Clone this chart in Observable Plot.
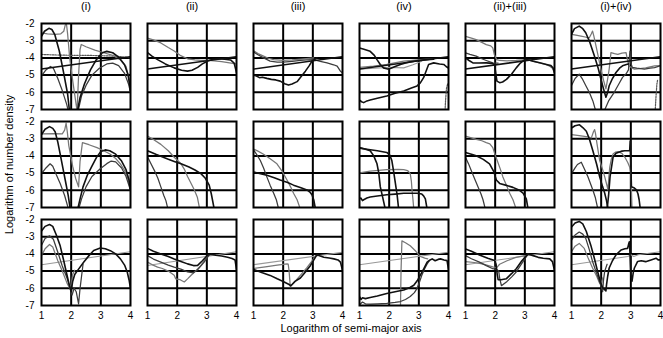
<!DOCTYPE html>
<html><head><meta charset="utf-8">
<script src="https://cdn.jsdelivr.net/npm/d3@7"></script>
<script src="https://cdn.jsdelivr.net/npm/@observablehq/plot@0.6"></script>
<style>
body{margin:0;background:#fff;color:#000;}
#chart svg{display:block;}
#chart svg text{fill:#000 !important;}
#chart [aria-label="x-axis label"] text,#chart [aria-label="y-axis label"] text{font-size:11px;}
#chart [aria-label="fx-axis tick label"]{fill:#000 !important;color:#000;}
#chart [aria-label="fx-axis tick label"] text{font-size:11px;}
</style></head><body><div id="chart"></div>
<script>
const columns = ["(i)","(ii)","(iii)","(iv)","(ii)+(iii)","(i)+(iv)"];
const rows = ["top","middle","bottom"];
const xTicks = [1,2,3,4];
const yTicks = [-2,-3,-4,-5,-6,-7];
const xGrid = [2,3];
const yGrid = [-3,-4,-5,-6];
const refLine = [[1,-4.65],[4,-3.93]];

// ---- top row ----
const r1c1 = [
 ["dotted",[[1,-3.8],[1.5,-3.83],[2,-3.85],[2.5,-3.85],[3,-3.87],[3.5,-3.9],[3.8,-3.95],[4,-4.0]]],
 ["mid",[[1,-2.55],[1.2,-2.6],[1.45,-2.63],[1.65,-2.6],[1.75,-2.45],[1.8,-2.1],[1.84,-2.0],[1.88,-2.6],[1.95,-4.0],[2.05,-5.3],[2.15,-6.5],[2.2,-7.1],[2.25,-5.0],[2.3,-3.5],[2.34,-3.22],[2.5,-3.35],[2.8,-3.55],[3.1,-3.7],[3.4,-3.85],[3.65,-4.1],[3.85,-4.5],[3.95,-5.2],[4,-6]]],
 ["dark",[[1,-5.05],[1.15,-4.7],[1.3,-4.5],[1.4,-4.6],[1.55,-5.2],[1.7,-5.9],[1.85,-6.7],[1.92,-7.2]]],
 ["dark",[[2.22,-7.2],[2.35,-6.2],[2.5,-5.6],[2.7,-5.0],[2.95,-4.6],[3.2,-4.35],[3.4,-4.3],[3.6,-4.45],[3.8,-4.9],[3.93,-5.5],[4,-6.0]]],
 ["black",[[1,-2.75],[1.1,-2.45],[1.25,-2.28],[1.35,-2.35],[1.45,-2.65],[1.6,-3.6],[1.75,-4.9],[1.88,-6.1],[1.95,-7.2]]],
 ["black",[[2.2,-7.2],[2.3,-6.3],[2.45,-5.5],[2.65,-4.7],[2.85,-4.1],[3.05,-3.7],[3.2,-3.62],[3.4,-3.7],[3.6,-3.95],[3.8,-4.4],[3.92,-5.0],[4,-5.9]]],
 ["black",refLine]
];
const r1c2 = [
 ["mid",[[1,-2.85],[1.2,-2.95],[1.45,-3.13],[1.7,-3.4],[1.9,-3.6],[2.1,-3.85],[2.35,-4.05],[2.6,-4.12],[2.8,-4.15],[3.05,-4.15],[3.25,-4.17],[3.5,-4.22],[3.82,-4.3],[4,-4.35]]],
 ["black",[[1,-3.7],[1.15,-3.9],[1.34,-4.1],[1.6,-4.35],[1.9,-4.58],[2.15,-4.72],[2.35,-4.77],[2.5,-4.72],[2.69,-4.55],[2.85,-4.35],[3.03,-4.18],[3.2,-4.08],[3.4,-4.05],[3.6,-4.08],[3.8,-4.12],[3.92,-4.3],[4,-4.85]]],
 ["black",refLine]
];
const r1c3 = [
 ["mid",[[1,-3.58],[1.15,-3.75],[1.34,-3.9],[1.5,-4.02],[1.68,-4.1],[2.0,-4.15],[2.3,-4.12],[2.6,-4.07],[3.03,-4.0]]],
 ["dark",[[1,-3.65],[1.15,-3.82],[1.34,-4.0],[1.56,-4.19],[1.8,-4.24],[2.0,-4.25],[2.3,-4.2],[2.58,-4.15],[2.8,-4.12],[3.03,-4.1],[3.25,-4.2],[3.48,-4.29],[3.7,-4.4],[3.82,-4.48],[3.93,-4.77],[4,-4.87]]],
 ["black",[[1,-5.0],[1.1,-5.05],[1.2,-5.15],[1.3,-5.12],[1.45,-5.19],[1.6,-5.25],[1.75,-5.28],[1.9,-5.35],[2.05,-5.5],[2.18,-5.58],[2.3,-5.52],[2.47,-5.38],[2.6,-5.1],[2.75,-4.77],[2.88,-4.45],[2.97,-4.19],[3.14,-4.0]]],
 ["black",refLine]
];
const r1c4 = [
 ["mid",[[1,-4.55],[1.47,-4.48],[1.92,-4.38],[2.49,-4.19],[3.05,-4.1],[3.5,-4.05]]],
 ["light",[[1,-4.65],[1.5,-4.6],[2.0,-4.55],[2.49,-4.58],[2.8,-4.4],[3.1,-4.2]]],
 ["dotted",[[3.88,-7.2],[3.9,-6.5],[3.93,-5.8],[3.97,-5.5],[4,-5.6]]],
 ["black",[[1,-3.42],[1.15,-3.5],[1.36,-3.62],[1.5,-3.85],[1.59,-4.1],[1.7,-4.38],[1.81,-4.58],[1.95,-4.65],[2.04,-4.62],[2.2,-4.5],[2.38,-4.38],[2.55,-4.3],[2.71,-4.23],[3.0,-4.15],[3.28,-4.1],[3.5,-4.08]]],
 ["black",[[1,-6.46],[1.07,-6.55],[1.14,-6.6],[1.25,-6.5],[1.36,-6.45],[1.6,-6.35],[1.92,-6.21],[2.2,-6.05],[2.49,-5.92],[2.75,-5.75],[2.94,-5.63],[3.05,-5.45],[3.16,-5.15],[3.25,-4.75],[3.33,-4.38],[3.5,-4.29],[3.7,-4.35],[3.84,-4.38],[3.92,-4.5],[4,-4.6]]],
 ["black",refLine]
];
const r1c5 = [
 ["mid",[[1,-2.75],[1.2,-2.85],[1.36,-2.94],[1.55,-3.1],[1.7,-3.23],[1.85,-3.3],[1.92,-3.42],[1.97,-3.8],[2.05,-4.1],[2.15,-4.15],[2.4,-4.17],[2.71,-4.15],[3.05,-4.1],[3.3,-4.2],[3.5,-4.29],[3.7,-4.38],[3.84,-4.48],[3.93,-4.6],[4,-4.87]]],
 ["dark",[[1,-3.71],[1.15,-3.8],[1.36,-3.9],[1.55,-4.05],[1.7,-4.15],[1.92,-4.29],[2.1,-4.3]]],
 ["black",[[1,-4.0],[1.12,-4.15],[1.25,-4.29],[1.45,-4.3],[1.7,-4.29],[1.9,-4.32],[1.98,-4.38],[2.02,-4.9],[2.06,-5.35],[2.15,-5.44],[2.25,-5.4],[2.38,-5.25],[2.55,-4.95],[2.71,-4.58],[2.85,-4.3],[3.0,-4.1],[3.15,-4.12],[3.28,-4.19],[3.5,-4.28],[3.73,-4.38],[3.88,-4.45],[3.95,-4.58],[4,-4.87]]],
 ["black",refLine]
];
const r1c6 = [
 ["mid",[[1,-2.63],[1.15,-2.68],[1.32,-2.73],[1.5,-2.8],[1.6,-2.83],[1.67,-2.6],[1.71,-2.44],[1.75,-2.7],[1.8,-3.1],[1.9,-3.9],[1.99,-4.65],[2.08,-5.3],[2.16,-5.8],[2.22,-5.2],[2.27,-4.65],[2.33,-3.69],[2.45,-3.75],[2.56,-3.79],[2.7,-3.72],[2.84,-3.69],[2.87,-3.98],[2.93,-4.46],[3.05,-4.6],[3.12,-4.65],[3.3,-4.62],[3.5,-4.58],[3.8,-4.46],[4,-4.45]]],
 ["dotted",[[3.82,-7.1],[3.85,-6.2],[3.88,-5.5],[3.9,-5.3]]],
 ["dark",[[1,-5.6],[1.12,-5.2],[1.26,-4.94],[1.36,-5.2],[1.48,-5.6],[1.6,-6.0],[1.72,-6.5],[1.82,-7.1]]],
 ["dark",[[2.1,-7.1],[2.25,-6.5],[2.44,-6.0],[2.6,-5.5],[2.72,-5.13],[2.85,-4.9],[2.92,-4.7],[2.95,-4.0],[2.97,-3.6],[3.0,-4.3],[3.05,-4.55],[3.2,-4.6],[3.46,-4.65],[3.65,-4.6],[3.8,-4.56],[4,-4.45]]],
 ["black",[[1,-2.63],[1.1,-2.3],[1.26,-2.15],[1.38,-2.3],[1.48,-2.54],[1.62,-3.1],[1.77,-3.88],[1.9,-4.6],[1.99,-5.23],[2.08,-5.8],[2.16,-6.29],[2.22,-6.0],[2.27,-5.62],[2.38,-5.2],[2.5,-4.85],[2.62,-4.6],[2.72,-4.46],[2.85,-4.38],[2.92,-4.35]]],
 ["black",refLine]
];

// ---- middle row ----
const r2c1 = [
 ["mid",[[1,-2.72],[1.4,-2.7],[1.7,-2.72],[1.78,-2.5],[1.83,-2.1],[1.87,-2.6],[1.92,-3.4],[2.05,-4.6],[2.15,-5.3],[2.25,-5.8],[2.3,-4.3],[2.38,-3.23],[2.6,-3.35],[2.87,-3.52],[3.1,-3.7],[3.32,-3.9],[3.5,-4.15],[3.66,-4.46],[3.8,-4.85],[3.9,-5.25],[4,-6.0]]],
 ["dark",[[1,-5.03],[1.15,-4.7],[1.29,-4.46],[1.38,-4.6],[1.5,-5.1],[1.63,-5.6],[1.78,-6.3],[1.91,-7.1]]],
 ["dark",[[2.25,-7.1],[2.35,-6.5],[2.5,-5.8],[2.7,-5.2],[2.98,-4.75],[3.2,-4.45],[3.35,-4.3],[3.5,-4.35],[3.7,-4.7],[3.85,-5.2],[4,-6.0]]],
 ["black",[[1,-2.76],[1.12,-2.45],[1.27,-2.3],[1.38,-2.4],[1.46,-2.6],[1.55,-3.2],[1.63,-3.9],[1.72,-4.7],[1.8,-5.4],[1.9,-6.3],[1.97,-7.1]]],
 ["black",[[2.22,-7.1],[2.3,-6.5],[2.4,-5.8],[2.55,-5.1],[2.7,-4.6],[2.85,-4.1],[3.0,-3.75],[3.15,-3.65],[3.3,-3.7],[3.5,-3.9],[3.7,-4.3],[3.85,-4.8],[3.95,-5.4],[4,-6.0]]]
];
const r2c2 = [
 ["mid",[[1,-2.85],[1.2,-3.05],[1.45,-3.33],[1.7,-3.7],[1.9,-4.08],[2.13,-4.46],[2.25,-4.8],[2.35,-5.2],[2.47,-5.6],[2.58,-5.98],[2.68,-6.4],[2.76,-7.1]]],
 ["dark",[[1,-4.05],[1.1,-4.4],[1.23,-4.84],[1.35,-5.3],[1.45,-5.8],[1.55,-6.3],[1.62,-6.6],[1.69,-7.1]]],
 ["black",[[1,-3.7],[1.3,-3.92],[1.68,-4.18],[1.9,-4.32],[2.13,-4.46],[2.4,-4.65],[2.6,-4.82],[2.8,-5.03],[2.95,-5.3],[3.08,-5.7],[3.15,-6.2],[3.25,-7.1]]]
];
const r2c3 = [
 ["mid",[[1,-3.6],[1.15,-3.72],[1.34,-3.9],[1.55,-4.15],[1.79,-4.46],[1.95,-4.85],[2.13,-5.4],[2.25,-5.8],[2.35,-6.17],[2.47,-6.55],[2.58,-7.1]]],
 ["dark",[[1,-3.65],[1.1,-3.9],[1.23,-4.27],[1.34,-4.7],[1.45,-5.22],[1.56,-5.7],[1.68,-6.17],[1.77,-6.55],[1.85,-7.1]]],
 ["black",[[1,-4.94],[1.2,-5.02],[1.45,-5.13],[1.7,-5.27],[1.9,-5.4],[2.15,-5.55],[2.35,-5.7],[2.6,-5.85],[2.8,-5.98],[2.9,-6.1],[2.97,-6.26],[3.03,-6.55],[3.09,-7.1]]]
];
const r2c4 = [
 ["mid",[[1,-4.99],[1.36,-4.88],[1.92,-4.8],[2.3,-4.78],[2.49,-4.8],[2.62,-4.85],[2.71,-5.03],[2.75,-5.5],[2.77,-5.98],[2.8,-6.5],[2.83,-7.1]]],
 ["black",[[1,-3.52],[1.15,-3.58],[1.36,-3.7],[1.48,-4.0],[1.59,-4.46],[1.65,-5.0],[1.7,-5.79],[1.78,-6.4],[1.87,-7.1]]],
 ["black",[[1,-3.55],[1.25,-3.61],[1.6,-3.7],[1.92,-3.8],[2.02,-3.95],[2.09,-4.27],[2.15,-4.9],[2.21,-5.6],[2.27,-6.3],[2.32,-7.1]]],
 ["black",[[1,-6.5],[1.05,-6.45],[1.1,-6.6],[1.14,-6.55],[1.25,-6.45],[1.36,-6.39],[1.6,-6.33],[1.92,-6.26],[2.2,-6.22],[2.49,-6.17],[2.94,-6.17],[3.1,-6.22],[3.16,-6.32],[3.22,-6.5],[3.28,-7.1]]]
];
const r2c5 = [
 ["mid",[[1,-2.85],[1.2,-2.95],[1.36,-3.04],[1.55,-3.12],[1.7,-3.23],[1.82,-3.3],[1.92,-3.52],[2.0,-3.95],[2.09,-4.37],[2.18,-4.8],[2.26,-5.22],[2.38,-5.7],[2.49,-6.17],[2.6,-6.55],[2.71,-7.1]]],
 ["dark",[[1,-4.08],[1.1,-4.45],[1.19,-4.84],[1.3,-5.3],[1.42,-5.79],[1.52,-6.2],[1.59,-6.55],[1.67,-7.1]]],
 ["black",[[1,-3.8],[1.2,-3.9],[1.36,-3.99],[1.6,-4.2],[1.81,-4.46],[1.95,-4.9],[2.04,-5.4],[2.15,-5.6],[2.35,-5.7],[2.6,-5.83],[2.8,-5.98],[2.94,-6.17],[3.05,-6.5],[3.11,-7.1]]]
];
const r2c6 = [
 ["mid",[[1,-2.76],[1.2,-2.8],[1.38,-2.85],[1.55,-2.9],[1.67,-2.95],[1.74,-2.6],[1.78,-2.47],[1.81,-2.7],[1.86,-3.3],[1.95,-4.27],[2.05,-4.8],[2.12,-5.22],[2.2,-5.75],[2.23,-5.98],[2.26,-5.2],[2.29,-4.65],[2.34,-4.2],[2.4,-3.89],[2.48,-3.78],[2.57,-3.75],[2.7,-3.85],[2.8,-4.08],[2.9,-4.4],[2.96,-4.65],[3.0,-5.0],[3.02,-6.0],[3.04,-7.1]]],
 ["dark",[[1,-5.03],[1.12,-4.7],[1.2,-4.5],[1.33,-4.37],[1.42,-4.7],[1.55,-5.2],[1.72,-5.98],[1.8,-6.4],[1.89,-7.1]]],
 ["black",[[1,-2.38],[1.12,-2.25],[1.27,-2.19],[1.38,-2.35],[1.5,-2.57],[1.6,-3.0],[1.72,-3.7],[1.85,-4.5],[1.95,-5.22],[2.05,-5.8],[2.12,-6.17],[2.18,-6.6],[2.23,-7.1]]],
 ["black",[[2.2,-7.1],[2.25,-6.3],[2.3,-5.2],[2.4,-4.08],[2.5,-3.85],[2.57,-3.8],[2.7,-3.72],[2.8,-3.7],[2.9,-3.7],[2.96,-3.7],[2.98,-3.14],[3.0,-4.5],[3.02,-5.79],[3.1,-5.85],[3.19,-5.98],[3.24,-6.2],[3.28,-6.55],[3.32,-7.1]]]
];

// ---- bottom row ----
const r3c1 = [
 ["light",[[1,-4.63],[4,-3.87]]],
 ["mid",[[1,-4.1],[1.12,-3.7],[1.27,-3.45],[1.38,-3.6],[1.55,-4.4],[1.7,-5.0],[1.86,-5.7],[1.95,-6.0],[2.0,-5.8],[2.05,-5.2],[2.12,-4.95]]],
 ["dark",[[1,-3.5],[1.12,-3.1],[1.27,-2.95],[1.4,-3.15],[1.55,-3.9],[1.7,-4.7],[1.86,-5.4],[1.95,-5.9],[2.03,-6.4],[2.1,-6.0],[2.17,-6.2],[2.25,-6.9],[2.3,-6.0],[2.35,-5.3],[2.4,-4.6]]],
 ["black",[[1,-2.67],[1.12,-2.4],[1.27,-2.29],[1.38,-2.4],[1.5,-2.9],[1.63,-3.53],[1.75,-4.4],[1.86,-5.24],[1.95,-5.9],[2.0,-6.2],[2.05,-5.6],[2.12,-5.2],[2.2,-5.0],[2.42,-4.48],[2.6,-4.1],[2.76,-3.8],[2.98,-3.66],[3.15,-3.7],[3.32,-3.81],[3.5,-4.0],[3.66,-4.29],[3.8,-4.65],[3.89,-5.05],[3.95,-5.5],[4,-6.0]]]
];
const r3c2 = [
 ["light",[[1,-4.67],[4,-3.88]]],
 ["mid",[[1,-4.48],[1.15,-4.62],[1.34,-4.77],[1.5,-4.85],[1.7,-5.0],[1.9,-5.24],[1.95,-5.45],[2.1,-5.5],[2.24,-5.63],[2.35,-5.45],[2.47,-5.24],[2.65,-4.95],[2.8,-4.67],[3.03,-4.1]]],
 ["dark",[[1,-4.1],[1.2,-4.3],[1.45,-4.48],[1.7,-4.65],[1.9,-4.77],[2.15,-4.9],[2.35,-5.05],[2.55,-5.1],[2.7,-4.9],[2.91,-4.48],[3.08,-4.06]]],
 ["black",[[1,-3.68],[1.2,-3.85],[1.45,-4.0],[1.7,-4.15],[1.9,-4.29],[2.15,-4.45],[2.35,-4.58],[2.55,-4.68],[2.69,-4.67],[2.85,-4.4],[3.03,-4.06],[3.15,-4.02],[3.3,-4.08],[3.5,-4.12],[3.7,-4.2],[3.85,-4.27],[3.95,-4.35],[4,-4.9]]]
];
const r3c3 = [
 ["light",[[1,-4.63],[4,-3.91]]],
 ["mid",[[1,-4.85],[1.4,-4.75],[1.8,-4.65],[2.13,-4.58],[2.17,-4.6],[2.2,-5.0],[2.24,-5.9],[2.4,-5.6],[2.6,-5.2],[2.8,-4.8],[3.0,-4.35],[3.1,-4.1]]],
 ["black",[[1,-4.9],[1.3,-5.1],[1.56,-5.25],[1.8,-5.45],[2.0,-5.6],[2.2,-5.78],[2.26,-5.85],[2.4,-5.6],[2.58,-5.4],[2.75,-5.05],[2.92,-4.67],[3.05,-4.3],[3.14,-4.04],[3.25,-4.12],[3.37,-4.19],[3.55,-4.24],[3.71,-4.29],[3.85,-4.35],[3.93,-4.48],[4,-4.96]]]
];
const r3c4 = [
 ["light",[[1,-4.63],[4,-3.9]]],
 ["mid",[[2.38,-7.2],[2.4,-5.0],[2.43,-3.24],[2.55,-3.35],[2.71,-3.53],[2.9,-3.85],[3.05,-4.15],[3.2,-4.25],[3.3,-4.29]]],
 ["dark",[[1,-6.96],[1.1,-6.8],[1.2,-6.9],[1.36,-6.92],[1.6,-6.9],[1.92,-6.87],[2.2,-6.82],[2.38,-6.77],[2.55,-6.65],[2.71,-6.48],[2.85,-6.25],[2.94,-6.0],[3.02,-5.65],[3.1,-5.24],[3.2,-4.85],[3.28,-4.58],[3.35,-4.4]]],
 ["black",[[1,-6.48],[1.05,-6.65],[1.1,-6.55],[1.2,-6.6],[1.36,-6.54],[1.6,-6.45],[1.92,-6.3],[2.2,-6.2],[2.49,-6.1],[2.7,-5.95],[2.83,-5.82],[2.95,-5.55],[3.05,-5.24],[3.17,-4.85],[3.28,-4.48],[3.38,-4.35],[3.45,-4.29],[3.55,-4.4],[3.65,-4.32],[3.73,-4.29],[3.85,-4.35],[3.95,-4.39],[4,-4.9]]]
];
const r3c5 = [
 ["light",[[1,-4.63],[4,-3.87]]],
 ["mid",[[1,-4.45],[1.3,-4.5],[1.6,-4.6],[1.92,-4.75],[2.05,-4.8],[2.15,-4.6],[2.4,-4.4],[2.7,-4.2],[3.0,-4.1]]],
 ["dark",[[1,-4.1],[1.2,-4.28],[1.47,-4.48],[1.7,-4.68],[1.92,-4.86],[2.05,-4.9],[2.12,-5.0],[2.15,-5.4],[2.21,-5.85],[2.4,-5.6],[2.55,-5.35],[2.71,-5.05],[2.9,-4.55],[3.11,-4.0]]],
 ["black",[[1,-3.72],[1.2,-3.85],[1.47,-4.06],[1.75,-4.25],[1.98,-4.39],[2.03,-4.6],[2.07,-5.2],[2.1,-5.5],[2.2,-5.5],[2.38,-5.44],[2.55,-5.15],[2.71,-4.86],[2.9,-4.4],[3.11,-4.0],[3.28,-4.1],[3.45,-4.2],[3.62,-4.25],[3.84,-4.29],[3.93,-4.45],[4,-4.96]]]
];
const r3c6 = [
 ["light",[[1,-4.63],[2.9,-4.15],[3.0,-4.05],[3.1,-4.15],[3.25,-4.05],[4,-3.87]]],
 ["mid",[[1,-3.87],[1.12,-3.55],[1.26,-3.39],[1.43,-3.68],[1.55,-4.2],[1.71,-4.82],[1.85,-5.3],[1.94,-5.68],[2.0,-5.8],[2.05,-5.4]]],
 ["dark",[[1,-3.2],[1.12,-2.9],[1.26,-2.73],[1.38,-2.85],[1.48,-3.1],[1.6,-3.75],[1.71,-4.44],[1.82,-5.0],[1.94,-5.59],[2.0,-5.9],[2.05,-6.2],[2.08,-5.5],[2.12,-5.0],[2.2,-4.6]]],
 ["black",[[1,-2.44],[1.12,-2.2],[1.26,-2.11],[1.38,-2.25],[1.5,-2.7],[1.65,-3.49],[1.77,-4.25],[1.88,-5.02],[1.97,-5.6],[2.05,-5.97],[2.1,-6.05],[2.16,-6.15],[2.18,-5.8],[2.22,-5.3],[2.27,-4.82],[2.38,-4.4],[2.5,-4.06],[2.67,-3.77],[2.8,-3.7],[2.89,-3.68],[2.93,-3.4],[2.95,-3.3],[2.97,-3.9],[3.0,-5.2],[3.04,-5.59],[3.08,-5.1],[3.12,-4.82],[3.23,-4.44],[3.35,-4.4],[3.5,-4.45],[3.68,-4.35],[3.85,-4.25],[3.92,-4.35],[4,-4.35]]]
];

const panels = [
 [columns[0],rows[0],r1c1],[columns[1],rows[0],r1c2],[columns[2],rows[0],r1c3],
 [columns[3],rows[0],r1c4],[columns[4],rows[0],r1c5],[columns[5],rows[0],r1c6],
 [columns[0],rows[1],r2c1],[columns[1],rows[1],r2c2],[columns[2],rows[1],r2c3],
 [columns[3],rows[1],r2c4],[columns[4],rows[1],r2c5],[columns[5],rows[1],r2c6],
 [columns[0],rows[2],r3c1],[columns[1],rows[2],r3c2],[columns[2],rows[2],r3c3],
 [columns[3],rows[2],r3c4],[columns[4],rows[2],r3c5],[columns[5],rows[2],r3c6]
];

const records = [];
panels.forEach(([col,row,series]) => series.forEach(([kind,pts],i) =>
  pts.forEach(([x,y]) => records.push({col,row,sid:col+"|"+row+"|"+i,kind,x,y}))));

const styles = {
  light:{stroke:"#999",strokeWidth:1.1},
  dotted:{stroke:"#555",strokeWidth:1.2,strokeDasharray:"1.5,1.2"},
  mid:{stroke:"#777",strokeWidth:1.25},
  dark:{stroke:"#3c3c3c",strokeWidth:1.25},
  black:{stroke:"#111",strokeWidth:1.6}
};
const lineMarks = Object.keys(styles).map(k =>
  Plot.line(records.filter(d => d.kind === k),
    {x:"x", y:"y", z:"sid", fx:"col", fy:"row", clip:true, ...styles[k]}));

const chart = Plot.plot({
  width:663, height:338,
  marginLeft:41, marginRight:2, marginTop:22, marginBottom:31,
  style:{fontFamily:"'Liberation Sans', Arial, Helvetica, sans-serif", fontSize:"10px", background:"#fff", color:"#000"},
  fx:{domain:columns, padding:0.16, label:null, tickSize:0, tickPadding:14},
  fy:{domain:rows, padding:0.12, axis:null, label:null},
  x:{domain:[1,4], ticks:xTicks, tickSize:0, tickPadding:6, tickFormat:d => String(d),
     label:"Logarithm of semi-major axis", labelAnchor:"center", labelOffset:26, labelArrow:"none"},
  y:{domain:[-7,-2], ticks:yTicks, tickSize:0, tickPadding:7, tickFormat:d => String(d),
     label:"Logarithm of number density", labelAnchor:"center", labelOffset:36, labelArrow:"none"},
  marks:[
    Plot.ruleX(xGrid, {stroke:"#000", strokeWidth:2}),
    Plot.ruleY(yGrid, {stroke:"#000", strokeWidth:2}),
    ...lineMarks,
    Plot.frame({stroke:"#000", strokeWidth:2})
  ]
});
document.getElementById("chart").appendChild(chart);
</script></body></html>
